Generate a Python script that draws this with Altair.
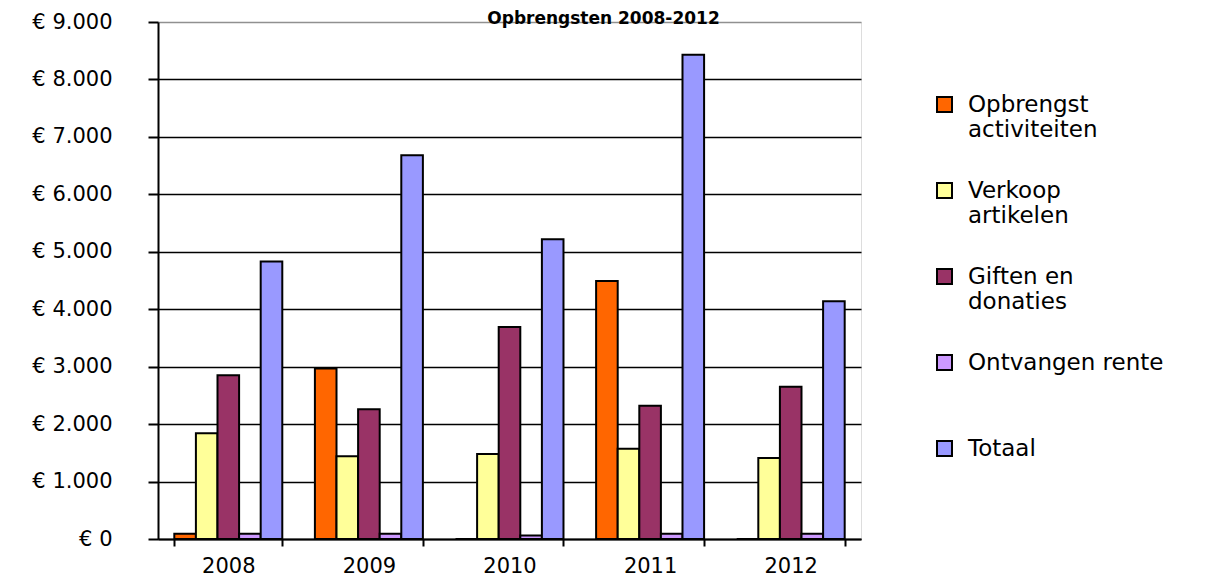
import json
import altair as alt
import pandas as pd

# ---- data ----
years = ["2008", "2009", "2010", "2011", "2012"]
series = ["Opbrengst activiteiten", "Verkoop artikelen", "Giften en donaties",
          "Ontvangen rente", "Totaal"]
opbrengst_activiteiten = [90, 2970, 0, 4490, 0]
verkoop_artikelen = [1840, 1440, 1480, 1570, 1410]
giften_en_donaties = [2850, 2260, 3690, 2320, 2650]
ontvangen_rente = [90, 90, 60, 90, 90]
totaal = [4830, 6680, 5220, 8430, 4140]
colors = ["#FF6600", "#FFFF99", "#993366", "#CC99FF", "#9999FF"]
legend_lines = [["Opbrengst", "activiteiten"], ["Verkoop", "artikelen"],
                ["Giften en", "donaties"], ["Ontvangen rente", ""], ["Totaal", ""]]
y_ticks = [0, 1000, 2000, 3000, 4000, 5000, 6000, 7000, 8000, 9000]

values = [opbrengst_activiteiten, verkoop_artikelen, giften_en_donaties,
          ontvangen_rente, totaal]
rows = []
for s, vals in zip(series, values):
    for y, v in zip(years, vals):
        rows.append({"jaar": y, "reeks": s, "waarde": v})
df = pd.DataFrame(rows)

label_expr = ""
for s, lines in zip(series, legend_lines):
    label_expr += f"datum.label === '{s}' ? {json.dumps(lines)} : "
label_expr += "datum.label"

FONT = "DejaVu Sans"

chart = alt.Chart(df).mark_bar(stroke="black", strokeWidth=2).encode(
    x=alt.X("jaar:N", sort=years, title=None,
            scale=alt.Scale(paddingInner=0.232, paddingOuter=0.116),
            axis=alt.Axis(labelAngle=0, tickBand="extent", domainColor="black",
                          domainWidth=2, tickColor="black", tickWidth=2, tickSize=7,
                          labelFontSize=21, labelFont=FONT, labelColor="black",
                          labelPadding=9, grid=False)),
    xOffset=alt.XOffset("reeks:N", sort=series,
                        scale=alt.Scale(paddingInner=0, paddingOuter=0)),
    y=alt.Y("waarde:Q", title=None, scale=alt.Scale(domain=[0, 9000], nice=False),
            axis=alt.Axis(values=y_ticks,
                          labelExpr="'€ ' + replace(format(datum.value, ','), ',', '.')",
                          labelFontSize=21, labelFont=FONT, labelColor="black",
                          labelPadding=36, tickSize=10, tickColor="black", tickWidth=2,
                          domainColor="black", domainWidth=2,
                          gridColor={"condition": {"test": "datum.value === 9000",
                                                   "value": "#909090"},
                                     "value": "black"},
                          gridWidth=1.5)),
    color=alt.Color("reeks:N", sort=series,
                    scale=alt.Scale(domain=series, range=colors),
                    legend=alt.Legend(orient="none", legendX=775, legendY=71,
                                      title=None, labelExpr=label_expr,
                                      labelFontSize=23, labelFont=FONT,
                                      labelColor="black", labelLimit=400,
                                      labelBaseline="middle", labelOffset=12,
                                      symbolType="square", symbolSize=225,
                                      symbolStrokeColor="black", symbolStrokeWidth=2,
                                      symbolOpacity=1, rowPadding=37, padding=0)),
).properties(
    width=703, height=517,
    title=alt.TitleParams("Opbrengsten 2008-2012", fontSize=17, fontWeight="bold",
                          font=FONT, color="black", anchor="middle", dx=94,
                          offset=10, dy=40, baseline="alphabetic"),
    autosize=alt.AutoSizeParams(type="none"),
    padding={"left": 150, "top": 14, "right": 363, "bottom": 38},
).configure_view(stroke="#909090", strokeWidth=1.5).configure(background="white")

chart.save("out.html", embed_options={"renderer": "svg", "actions": False})
